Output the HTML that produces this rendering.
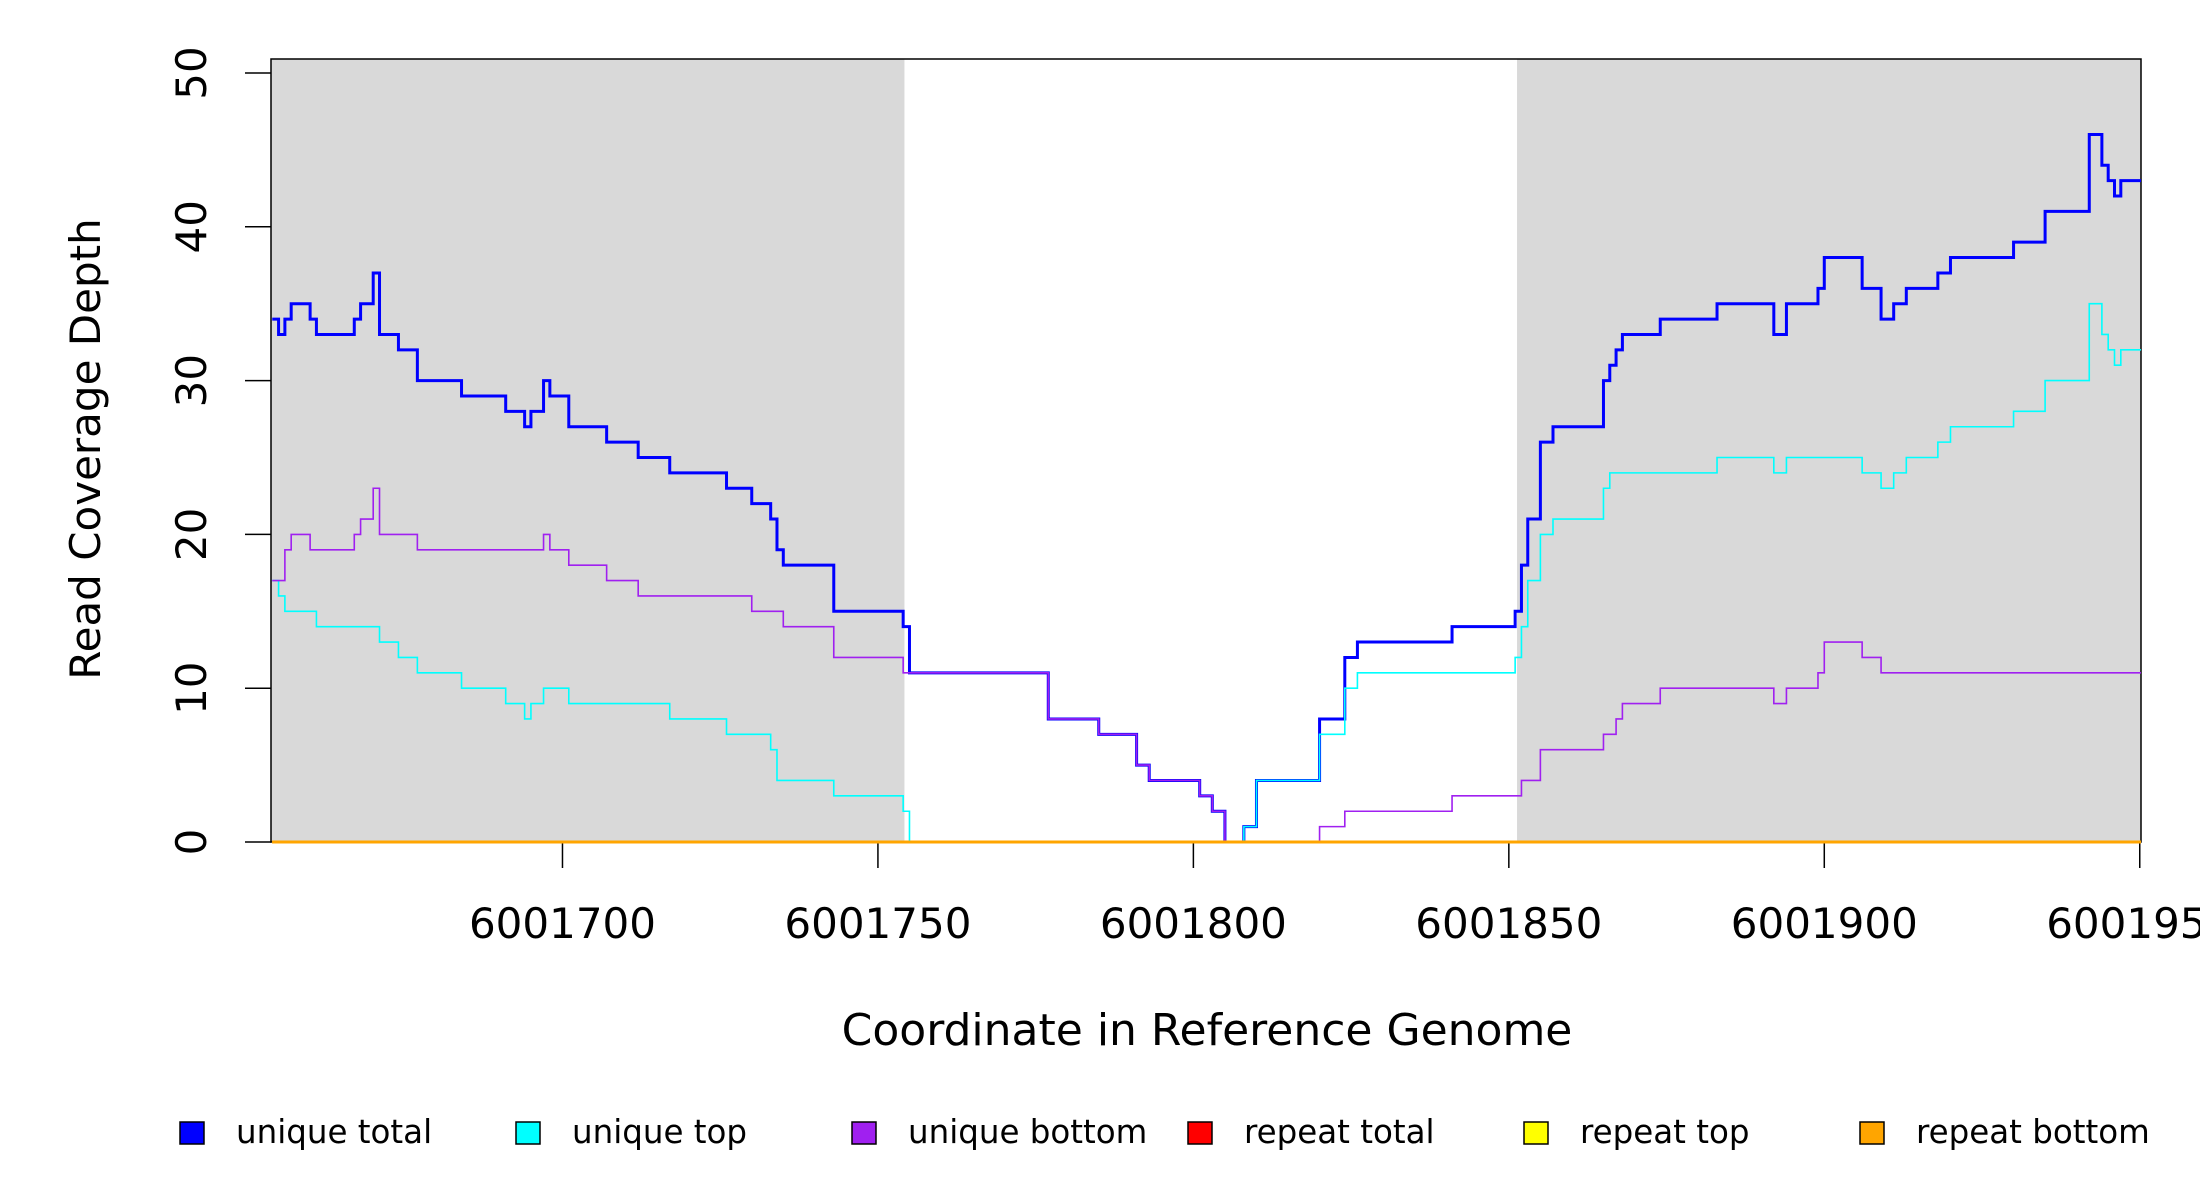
<!DOCTYPE html>
<html><head><meta charset="utf-8">
<style>
html,body{margin:0;padding:0;background:#fff;overflow:hidden;}
svg{display:block;font-family:"DejaVu Sans","Liberation Sans",sans-serif;}
</style></head>
<body>
<svg id="chart" width="2200" height="1200" viewBox="0 0 2200 1200" xmlns="http://www.w3.org/2000/svg">
<g id="bg"></g>
<rect x="271" y="59" width="1870" height="783" fill="none" stroke="#000" stroke-width="1.5"/>
<g id="axes"></g>
<g id="series"></g>
<text transform="translate(100,449) rotate(-90)" text-anchor="middle" font-size="42">Read Coverage Depth</text>
<text x="1207" y="1045" text-anchor="middle" font-size="44">Coordinate in Reference Genome</text>
<g id="legend"></g>
</svg>
<script>
const BASE = 6001654;
const xTicks = [6001700, 6001750, 6001800, 6001850, 6001900, 6001950];
const yTicks = [0, 10, 20, 30, 40, 50];
const shadedRegions = [[-0.2, 100.2], [197.3, 296.2]];
const totalStart = [0,1,2,3,6,7,13,14,16,17,20,23,30,37,40,41,43,44,47,53,58,63,72,76,79,80,81,89,100,101,123,131,137,139,147,149,151,154,156,166,170,172,187,197,198,199,201,203,211,212,213,214,220,229,238,240,245,246,252,255,257,259,264,266,276,281,288,290,291,292,293];
const totalVal = [34,33,34,35,34,33,34,35,37,33,32,30,29,28,27,28,30,29,27,26,25,24,23,22,21,19,18,15,14,11,8,7,5,4,3,2,0,1,4,8,12,13,14,15,18,21,26,27,30,31,32,33,34,35,33,35,36,38,36,34,35,36,37,38,39,41,46,44,43,42,43];
const topStart = [0,1,2,7,17,20,23,30,37,40,41,43,47,63,72,79,80,89,100,101,154,156,166,170,172,197,198,199,201,203,211,212,229,238,240,252,255,257,259,264,266,276,281,288,290,291,292,293];
const topVal = [17,16,15,14,13,12,11,10,9,8,9,10,9,8,7,6,4,3,2,0,1,4,7,10,11,12,14,17,20,21,23,24,25,24,25,24,23,24,25,26,27,28,30,35,33,32,31,32];
const bottomStart = [0,2,3,6,13,14,16,17,23,43,44,47,53,58,76,81,89,100,123,131,137,139,147,149,151,166,170,187,198,201,211,213,214,220,238,240,245,246,252,255];
const bottomVal = [17,19,20,19,20,21,23,20,19,20,19,18,17,16,15,14,12,11,8,7,5,4,3,2,0,1,2,3,4,6,7,8,9,10,9,10,11,13,12,11];
const repeatStart = [0];
const repeatTotalVal = [0];
const repeatTopVal = [0];
const repeatBottomVal = [0];
const legendLabels = ["unique total","unique top","unique bottom","repeat total","repeat top","repeat bottom"];
const legendColors = ["#0000ff","#00ffff","#a020f0","#ff0000","#ffff00","#ffa500"];

const NS = "http://www.w3.org/2000/svg";
const END = 296.2;
const xS = off => 271 + (off + 0.2) * (1870 / 296.4);
const xG = g => xS(g - BASE);
const yS = v => 842 - v * 15.38;

function mk(tag, attrs, parent){
  const e = document.createElementNS(NS, tag);
  for (const k in attrs) e.setAttribute(k, attrs[k]);
  parent.appendChild(e);
  return e;
}
const bg = document.getElementById('bg');
shadedRegions.forEach(r => {
  const e = mk('rect', {x: xS(r[0]), y: 59, width: xS(r[1]) - xS(r[0]), height: 783, fill: '#d9d9d9'}, bg);
  
  
});

function stepPath(starts, vals){
  let d = 'M' + xS(starts[0]) + ' ' + yS(vals[0]);
  for (let i = 1; i < starts.length; i++){
    d += ' H' + xS(starts[i]) + ' V' + yS(vals[i]);
  }
  d += ' H' + xS(END);
  return d;
}
const sg = document.getElementById('series');
const seriesDefs = [
  [totalStart, totalVal, '#0000ff', 3, 'series-unique-total'],
  [topStart, topVal, '#00ffff', 1.6, 'series-unique-top'],
  [bottomStart, bottomVal, '#a020f0', 1.6, 'series-unique-bottom'],
  [repeatStart, repeatTotalVal, '#ff0000', 3, 'series-repeat-total'],
  [repeatStart, repeatTopVal, '#ffff00', 3, 'series-repeat-top'],
  [repeatStart, repeatBottomVal, '#ffa500', 3, 'series-repeat-bottom']
];
seriesDefs.forEach(s => {
  const p = mk('path', {d: stepPath(s[0], s[1]), fill: 'none', stroke: s[2], 'stroke-width': s[3]}, sg);
  
  
});

const ax = document.getElementById('axes');
yTicks.forEach(t => {
  const y = yS(t);
  const l = mk('line', {x1: 245, x2: 271, y1: y, y2: y, stroke: '#000', 'stroke-width': 1.5}, ax);
  
  
  const tx = mk('text', {transform: 'translate(206,' + y + ') rotate(-90)', 'text-anchor': 'middle', 'font-size': 42}, ax);
  tx.textContent = t;
  
  
});
xTicks.forEach(t => {
  const x = xG(t);
  const l = mk('line', {x1: x, x2: x, y1: 842, y2: 868, stroke: '#000', 'stroke-width': 1.5}, ax);
  
  
  const tx = mk('text', {x: x, y: 938, 'text-anchor': 'middle', 'font-size': 42}, ax);
  tx.textContent = t;
  
  
});

const lg = document.getElementById('legend');
const legX = [180, 516, 852, 1188, 1524, 1860];
legendLabels.forEach((lab, i) => {
  const r = mk('rect', {x: legX[i], y: 1122, width: 24, height: 22, fill: legendColors[i], stroke: '#000', 'stroke-width': 1.5}, lg);
  
  
  const tx = mk('text', {x: legX[i] + 56, y: 1143, 'font-size': 32.5}, lg);
  tx.textContent = lab;
  
  
});
</script>
</body></html>
